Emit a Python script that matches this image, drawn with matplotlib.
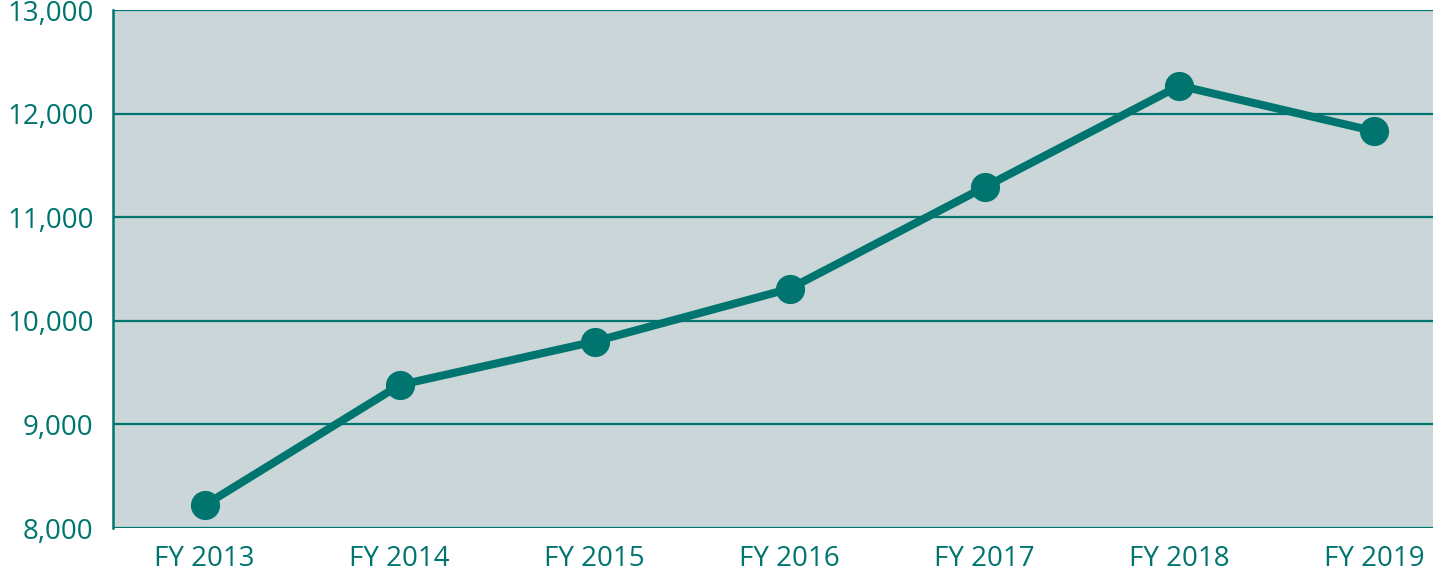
import numpy as np
from matplotlib import pyplot as plt

# Data
years = ['FY 2013', 'FY 2014', 'FY 2015', 'FY 2016', 'FY 2017', 'FY 2018', 'FY 2019']
values = [8220, 9380, 9800, 10310, 11290, 12270, 11830]
y_ticks = [8000, 9000, 10000, 11000, 12000, 13000]

teal = '#00756F'
bg = '#CAD6D8'

plt.rcParams['font.family'] = ['Open Sans', 'DejaVu Sans']

fig = plt.figure(figsize=(14.39, 5.73), dpi=100)
ax = fig.add_axes([0.0785, 0.0785, 0.9173, 0.904])
ax.set_facecolor(bg)

x = np.arange(len(years))
ax.plot(x, values, color=teal, linewidth=5.8, marker='o', markersize=20,
        solid_capstyle='round', zorder=3)

ax.set_ylim(8000, 13000)
ax.set_xlim(-0.47, 6.3)
ax.set_yticks(y_ticks)
ax.set_yticklabels([f'{v:,}' for v in y_ticks])
ax.set_xticks(x)
ax.set_xticklabels(years)

for v in y_ticks:
    ax.axhline(v, color=teal, linewidth=1.6, zorder=1)

for side in ['top', 'right', 'bottom']:
    ax.spines[side].set_visible(False)
ax.spines['left'].set_color(teal)
ax.spines['left'].set_linewidth(1.8)

ax.tick_params(axis='both', length=0, labelcolor=teal, labelsize=20)
ax.tick_params(axis='y', pad=14)
ax.tick_params(axis='x', pad=12)

plt.savefig('out.png', dpi=100)
